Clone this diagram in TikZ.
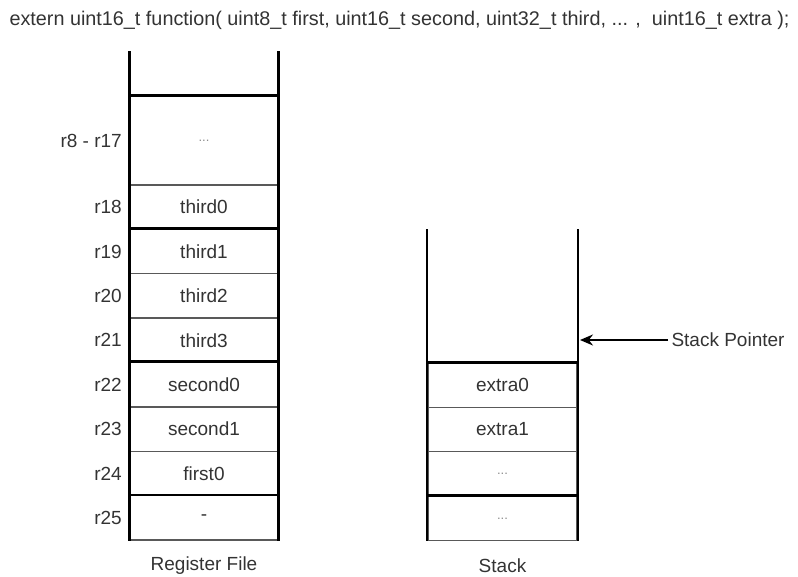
\documentclass[tikz,border=0pt]{standalone}
\usepackage{fontspec}
\setmainfont{Liberation Sans}
\usetikzlibrary{arrows.meta}
\newcommand{\cdotsgray}{\textcolor{black!45}{\fontsize{13}{15}\selectfont ...}}
\begin{document}
\begin{tikzpicture}[x=1pt, y=-1pt,
    every node/.style={font=\fontsize{19}{22}\selectfont, text=black!80},
    cell/.style={draw=black!65, line width=1.3pt, minimum width=148pt, minimum height=44.4pt, inner sep=0pt},
    sep/.style={line width=2.8pt},
    rail/.style={line width=2.4pt}]
  \useasboundingbox (0,0) rectangle (798,576);
  \node[anchor=west, font=\fontsize{19.8}{22}\selectfont] (title) at (6,20) {extern uint16\_t function( uint8\_t first, uint16\_t second, uint32\_t third, ... ,\ \ uint16\_t extra );};
  % register file
  \node[cell, minimum height=88.8pt] (rblk) at (204,140.5) {\cdotsgray};
  \node[anchor=east] (lblk) at ([xshift=-4pt]rblk.west) {r8 - r17};
  \foreach \n/\txt [count=\i] in {18/third0, 19/third1, 20/third2, 21/third3, 22/second0, 23/second1, 24/first0, 25/-}
  {
    \node[cell] (r\n) at (204,162.7+44.4*\i) {\txt};
    \node[anchor=east] (l\n) at ([xshift=-4pt]r\n.west) {r\n};
  }
  \foreach \n in {blk,19,22,25}
    \draw[sep] (r\n.north west) -- (r\n.north east);
  \draw[rail] ([yshift=44pt]rblk.north west) -- (r25.south west);
  \draw[rail] ([yshift=44pt]rblk.north east) -- (r25.south east);
  \node (rname) at (204,566) {Register File};
  % stack
  \foreach \n/\txt [count=\i] in {0/extra0, 1/extra1, 2/\cdotsgray, 3/\cdotsgray}
    \node[cell, minimum width=149pt] (s\n) at (502.5,340.7+44.4*\i) {\txt};
  \foreach \n in {0,3}
    \draw[sep] (s\n.north west) -- (s\n.north east);
  \draw[rail, line width=1.8pt] ([yshift=133pt]s0.north west) -- (s3.south west);
  \draw[rail, line width=1.8pt] ([yshift=133pt]s0.north east) -- (s3.south east);
  \node (sname) at (502.5,566) {Stack};
  % stack pointer
  \coordinate (sp) at (580,340);
  \node[anchor=west] (sptext) at (668,340) {Stack Pointer};
  \draw[line width=1.8pt, -{Stealth[length=13pt, width=11pt]}] (sptext.west) -- (sp);
\end{tikzpicture}
\end{document}
